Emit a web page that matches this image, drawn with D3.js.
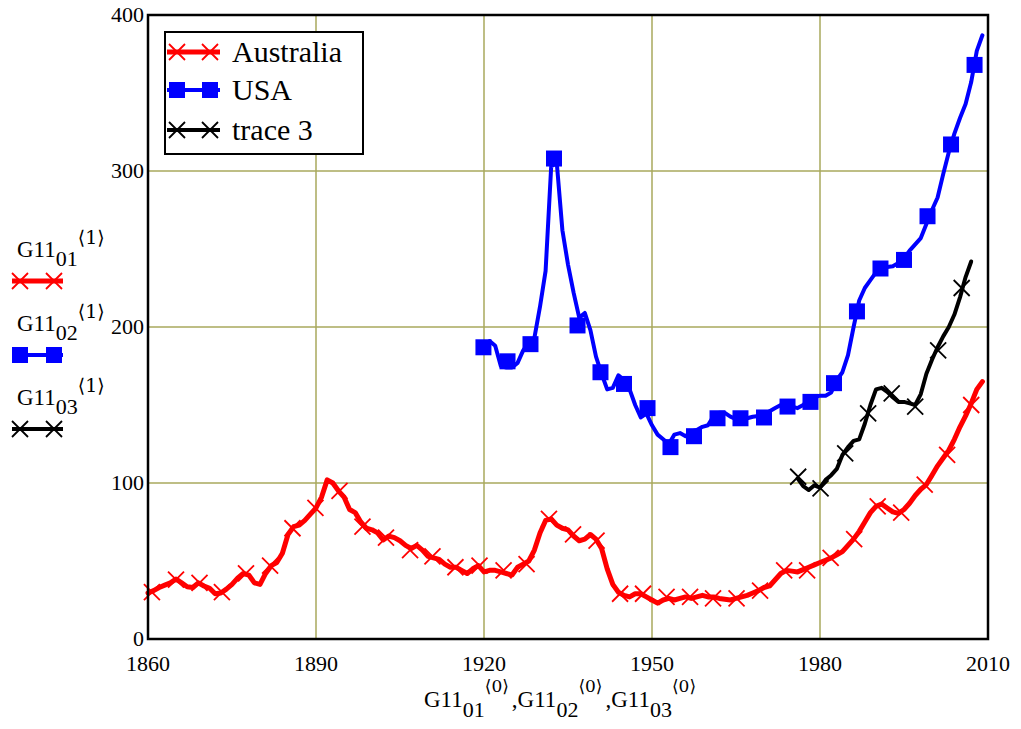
<!DOCTYPE html>
<html><head><meta charset="utf-8">
<script src="https://cdn.jsdelivr.net/npm/d3@7"></script>
<style>
body{margin:0;background:#fff}
svg{display:block}
text{font-family:"Liberation Serif","Times New Roman",serif;fill:#000}
.br{font-family:"DejaVu Serif","Liberation Serif",serif}
</style>
</head><body><svg id="c" width="1021" height="729"></svg>
<script>
// ---------- data ----------
const ausStart = 1860;
const ausValues = [
  29.5,31,33,34.5,36,38.5,36,33.5,33,36,
  34,32.5,29,29.5,32,35,39,42,41,36,
  35,42,47,49,55,67,72,73,76,80,
  84,91,102,100,95,91,83,81,75,71,
  70,68,63.5,66,65,63,60,58,60,57,
  53,52,51,48,46,46,44,42,45,47,
  43,44,44,43,42,41,46,48,50,57,
  68,76,77,73,71,70,66,63,64,67,
  64,58,45,35,30,28,27,29,29,27,
  25,23,25,26,25,26,27,26,27,28,
  27,27,26,25.5,25,26,27,28,29.5,31,
  33,34,38,42,44,43.5,43,44.5,46,47.5,
  49,50.5,52,54,56,60,64,69,75,81,
  85,86.5,84,81.5,80.5,83,87,92,96,99,
  105,111,116,121,128,136,143,151,160,165
];
const ausMarkers = [
  [1860.7,30],[1865.0,38],[1869.2,36],[1873.2,30],[1877.5,42],[1881.8,47],[1885.8,71],
  [1889.9,84],[1894.2,95],[1898.3,72],[1902.5,65],[1906.8,57],[1910.8,53],[1914.9,46],
  [1919.2,47],[1923.5,44],[1927.6,48],[1931.6,77],[1935.9,67],[1940.1,63],[1944.3,29],
  [1948.4,29],[1952.6,27],[1956.8,27],[1960.9,26],[1965.1,26],[1969.3,31],[1973.6,44],
  [1977.7,44],[1981.9,52],[1986.1,64],[1990.3,85],[1994.5,81],[1998.7,99],[2002.7,118],[2007.0,150]
];

const usaStart = 1920;
const usaValues = [
  188,191,188,175,174,174,177,185,190,193,
  213,236,303,305,262,240,222,206,209,198,
  181,170,160,161,169,166,160,150,142,144.5,
  137,131,128,125,131,132,130,133,134,136,
  137,143,145,145,142.5,141,140.5,141.5,142.5,143,
  144,146,148,150,150,149,148,150,154,155,
  156,156,158,166,171,182,200,217,225,230,
  235,237.5,238.5,239,241,244,249,253,257,266,
  275,283,298,312,324,334,343,357,377,387
];
const usaMarkers = [
  [1919.9,187],[1924.2,178],[1928.3,189],[1932.5,308],[1936.7,201],[1940.8,171],[1945.0,163.5],
  [1949.2,148],[1953.3,123],[1957.5,130],[1961.7,141.5],[1965.8,141.5],[1970.0,142],[1974.2,149],
  [1978.3,152],[1982.5,164],[1986.6,210],[1990.8,237.5],[1995.0,243],[1999.2,271],[2003.4,317],[2007.6,368]
];

const trStart = 1976;
const trValues = [
  103,98,95.5,98.5,97,102,105,109,118,123,
  127,128,138,150,160,161,158.5,155,152,152,
  151,150,157,170,179,187,194,200,208,219,232,242
];
const trMarkers = [
  [1976.1,104],[1980.1,96.6],[1984.5,119],[1988.6,144.7],[1992.8,157.5],[1997.0,149],[2001.1,185],[2005.3,225]
];

const xTicks = [1860,1890,1920,1950,1980,2010];
const yTicks = [0,100,200,300,400];
const xGrid = [1890,1920,1950,1980];
const yGrid = [100,200,300];
const legendNames = ["Australia","USA","trace 3"];
const sideSubs = ["01","02","03"];

// ---------- drawing ----------
const svg = d3.select("#c");
const L=148,R=988,T=15,B=639;
const x = d3.scaleLinear().domain([1860,2010]).range([L,R]);
const y = d3.scaleLinear().domain([0,400]).range([B,T]);
const gridCol = "#a8a85c";

const toPts = (start, vals) => vals.map((v,i)=>[start+i, v]);
const series = [
  {pts: toPts(ausStart, ausValues), mk: ausMarkers, color:"#ff0000", w:5, marker:"x"},
  {pts: toPts(usaStart, usaValues), mk: usaMarkers, color:"#0000ff", w:4, marker:"sq"},
  {pts: toPts(trStart, trValues), mk: trMarkers, color:"#000000", w:4, marker:"x"}
];

// grid
svg.append("g").selectAll("line").data(xGrid).join("line")
  .attr("x1",d=>x(d)).attr("x2",d=>x(d)).attr("y1",T).attr("y2",B)
  .attr("stroke",gridCol).attr("stroke-width",1.5);
svg.append("g").selectAll("line").data(yGrid).join("line")
  .attr("y1",d=>y(d)).attr("y2",d=>y(d)).attr("x1",L).attr("x2",R)
  .attr("stroke",gridCol).attr("stroke-width",1.5);

function drawMarker(g, type, cx, cy, color){
  const s=8;
  if(type==="x"){
    g.append("path").attr("d",`M${cx-s},${cy-s}L${cx+s},${cy+s}M${cx-s},${cy+s}L${cx+s},${cy-s}`)
      .attr("stroke",color).attr("stroke-width",1.8).attr("fill","none");
  } else {
    g.append("rect").attr("x",cx-s).attr("y",cy-s).attr("width",2*s).attr("height",2*s).attr("fill",color);
  }
}

const line = d3.line().x(d=>x(d[0])).y(d=>y(d[1]));
const plot = svg.append("g");
series.forEach(s=>{
  plot.append("path").datum(s.pts).attr("d",line).attr("fill","none")
    .attr("stroke",s.color).attr("stroke-width",s.w).attr("stroke-linejoin","round").attr("stroke-linecap","round");
  const mg = plot.append("g");
  s.mk.forEach(d=>drawMarker(mg, s.marker, x(d[0]), y(d[1]), s.color));
});

// frame
svg.append("rect").attr("x",L).attr("y",T).attr("width",R-L).attr("height",B-T)
  .attr("fill","none").attr("stroke","#000").attr("stroke-width",2.5);

// tick labels
svg.append("g").selectAll("text").data(xTicks).join("text")
  .attr("x",d=>x(d)).attr("y",671).attr("text-anchor","middle").attr("font-size",22).text(d=>d);
svg.append("g").selectAll("text").data(yTicks).join("text")
  .attr("x",144).attr("y",d=>y(d)+7).attr("text-anchor","end").attr("font-size",22).text(d=>d);

// inner legend
const lg = svg.append("g");
lg.append("rect").attr("x",165).attr("y",32).attr("width",198).attr("height",122)
  .attr("fill","#fff").attr("stroke","#000").attr("stroke-width",2);
const legY = [52,90,130];
series.forEach((s,i)=>{
  lg.append("line").attr("x1",167).attr("x2",220).attr("y1",legY[i]).attr("y2",legY[i])
    .attr("stroke",s.color).attr("stroke-width",s.w);
  drawMarker(lg, s.marker, 177, legY[i], s.color);
  drawMarker(lg, s.marker, 210, legY[i], s.color);
  lg.append("text").attr("x",232).attr("y",legY[i]+10).attr("font-size",30).text(legendNames[i]);
});

// side legend
const sg = svg.append("g");
const sideLineY = [281,355,429];
const sideBase = [257,331,405];
series.forEach((s,i)=>{
  sg.append("line").attr("x1",12).attr("x2",63).attr("y1",sideLineY[i]).attr("y2",sideLineY[i])
    .attr("stroke",s.color).attr("stroke-width",s.w);
  drawMarker(sg, s.marker, 20, sideLineY[i], s.color);
  drawMarker(sg, s.marker, 54, sideLineY[i], s.color);
  const t = sg.append("text").attr("x",17).attr("y",sideBase[i]).attr("font-size",23);
  t.append("tspan").text("G11");
  t.append("tspan").attr("y",sideBase[i]+9).attr("font-size",22).text(sideSubs[i]);
  t.append("tspan").attr("class","br").attr("y",sideBase[i]-13).attr("font-size",19).text("\u27E81\u27E9");
});

// x axis title
const xt = svg.append("text").attr("x",424).attr("y",707).attr("font-size",23);
sideSubs.forEach((sub,i)=>{
  if(i>0) xt.append("tspan").attr("y",707).attr("dx",3).text(",");
  xt.append("tspan").attr("y",707).text("G11");
  xt.append("tspan").attr("y",717).attr("font-size",22).text(sub);
  xt.append("tspan").attr("class","br").attr("y",692).attr("font-size",17).text("\u27E80\u27E9");
});
</script></body></html>
